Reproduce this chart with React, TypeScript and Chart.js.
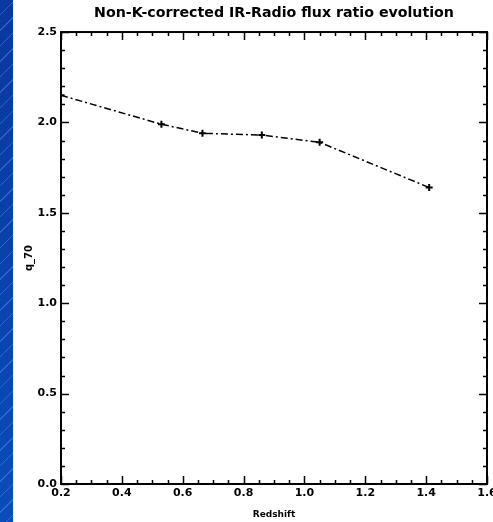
import React, { useEffect, useRef } from "react";
import { Chart, registerables } from "chart.js";

Chart.register(...registerables);

const redshift = [0.2, 0.53, 0.665, 0.86, 1.05, 1.41];
const q70 = [2.15, 1.99, 1.94, 1.93, 1.89, 1.64];

const titleText = "Non-K-corrected IR-Radio flux ratio evolution";
const xTitle = "Redshift";
const yTitle = "q_70";

const xMin = 0.2, xMax = 1.6, xMajor = 0.2, xMinor = 0.05;
const yMin = 0, yMax = 2.5, yMajor = 0.5, yMinor = 0.1;

const framePlugin = {
  id: "idlFrame",
  afterDatasetsDraw(chart: any) {
    const { ctx, chartArea: a, scales } = chart;
    const xs = scales.x, ys = scales.y;
    ctx.save();
    ctx.strokeStyle = "#000";
    ctx.lineWidth = 1.5;
    ctx.beginPath();
    const nx = Math.round((xMax - xMin) / xMinor);
    for (let i = 0; i <= nx; i++) {
      const v = xMin + i * xMinor;
      const px = Math.round(xs.getPixelForValue(v)) + 0.5;
      const len = i % Math.round(xMajor / xMinor) === 0 ? 8 : 4;
      ctx.moveTo(px, a.bottom);
      ctx.lineTo(px, a.bottom - len);
      ctx.moveTo(px, a.top);
      ctx.lineTo(px, a.top + len);
    }
    const ny = Math.round((yMax - yMin) / yMinor);
    for (let i = 0; i <= ny; i++) {
      const v = yMin + i * yMinor;
      const py = Math.round(ys.getPixelForValue(v)) + 0.5;
      const len = i % Math.round(yMajor / yMinor) === 0 ? 8 : 4;
      ctx.moveTo(a.left, py);
      ctx.lineTo(a.left + len, py);
      ctx.moveTo(a.right, py);
      ctx.lineTo(a.right - len, py);
    }
    ctx.stroke();
    ctx.lineWidth = 2;
    ctx.strokeRect(a.left, a.top, a.right - a.left, a.bottom - a.top);
    ctx.restore();
  },
};

const bgPlugin = {
  id: "whiteBg",
  beforeDraw(chart: any) {
    const { ctx, width, height } = chart;
    ctx.save();
    ctx.fillStyle = "#ffffff";
    ctx.fillRect(0, 0, width, height);
    ctx.restore();
  },
};

export default function App() {
  const ref = useRef<HTMLCanvasElement | null>(null);
  useEffect(() => {
    if (!ref.current) return;
    const points = redshift.map((x, i) => ({ x, y: q70[i] }));
    const chart = new Chart(ref.current, {
      type: "scatter",
      data: {
        datasets: [
          {
            data: points,
            showLine: true,
            borderColor: "#000",
            backgroundColor: "#000",
            borderWidth: 1.5,
            borderDash: [7, 3, 2, 3],
            pointStyle: "cross",
            pointRadius: 3.5,
            pointBorderWidth: 2,
            pointBorderColor: "#000",
          },
        ],
      },
      options: {
        animation: false,
        responsive: false,
        layout: { padding: { left: 0, right: 1, top: 0, bottom: 0 } },
        plugins: {
          legend: { display: false },
          tooltip: { enabled: false },
          title: {
            display: true,
            fullSize: false,
            text: titleText,
            color: "#000",
            font: { family: "DejaVu Sans", size: 14.2, weight: "bold" },
            padding: { top: 5, bottom: 10 },
          },
        },
        scales: {
          x: {
            type: "linear",
            min: xMin,
            max: xMax,
            grid: { display: false, drawTicks: false },
            border: { display: false },
            ticks: {
              stepSize: xMajor,
              color: "#000",
              padding: 3,
              maxRotation: 0,
              font: { family: "DejaVu Sans", size: 11, weight: "bold" },
              callback: (v: any) => Number(v).toFixed(1),
            },
            title: {
              display: true,
              text: xTitle,
              color: "#000",
              font: { family: "DejaVu Sans", size: 9, weight: "bold" },
              padding: { top: 0, bottom: 2 },
            },
            afterFit(scale: any) {
              scale.height = 38;
              scale.paddingLeft = 0;
              scale.paddingRight = 0;
            },
          },
          y: {
            type: "linear",
            min: yMin,
            max: yMax,
            grid: { display: false, drawTicks: false },
            border: { display: false },
            ticks: {
              stepSize: yMajor,
              color: "#000",
              padding: 4,
              font: { family: "DejaVu Sans", size: 11, weight: "bold" },
              callback: (v: any) => Number(v).toFixed(1),
            },
            title: {
              display: true,
              text: yTitle,
              color: "#000",
              font: { family: "DejaVu Sans", size: 10, weight: "bold" },
              padding: { top: 10, bottom: 0 },
            },
            afterFit(scale: any) {
              scale.width = 48;
            },
          },
        },
      },
      plugins: [bgPlugin, framePlugin],
    });
    return () => chart.destroy();
  }, []);

  return (
    <div
      style={{
        position: "fixed",
        left: 0,
        top: 0,
        width: 493,
        height: 522,
        overflow: "hidden",
        background: "#fff",
      }}
    >
      <div
        style={{
          position: "absolute",
          left: 0,
          top: 0,
          width: 13,
          height: 522,
          backgroundColor: "#0a40a8",
          backgroundImage:
            "repeating-linear-gradient(135deg, rgba(255,255,255,0) 0px, rgba(255,255,255,0) 10px, rgba(110,150,240,0.4) 10px, rgba(110,150,240,0.4) 11px), linear-gradient(180deg, #0838a0, #0a4cb8)",
        }}
      />
      <canvas
        ref={ref}
        width={480}
        height={522}
        style={{ position: "absolute", left: 13, top: 0, width: 480, height: 522 }}
      />
    </div>
  );
}
